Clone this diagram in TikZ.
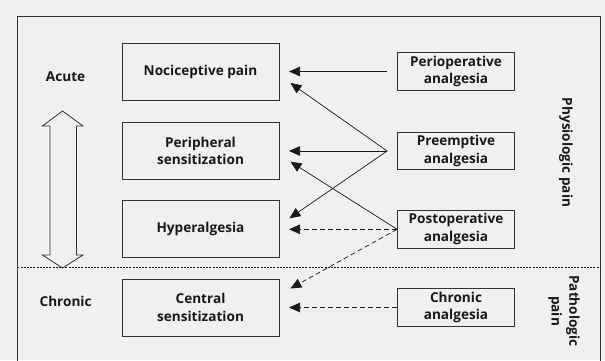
\documentclass[tikz,border=0pt]{standalone}
\usepackage{fontspec}
\setmainfont{Open Sans}
\usetikzlibrary{arrows.meta}
\begin{document}
\begin{tikzpicture}[x=1pt, y=-1pt,
        every node/.style={font=\fontsize{13.6}{17.7}\selectfont\bfseries, text=black!90, align=center, inner sep=0pt},
        stage/.style={draw=black!80, line width=0.8pt, minimum width=157pt, minimum height=57pt},
        therapy/.style={draw=black!80, line width=0.8pt, minimum width=117pt, minimum height=37.7pt},
        effect/.style={-{Triangle[length=11pt,width=9.5pt]}, line width=0.7pt, draw=black!90},
        weak/.style={effect, dash pattern=on 5pt off 3pt}]
        \fill[black!6] (0,0) rectangle (605,360);
        \useasboundingbox (0,0) rectangle (605,360);
        % frame and acute/chronic border
        \draw[black!80, line width=0.8pt] (17.4,362) -- (17.4,16.7) -- (600,16.7) -- (600,362);
        \draw[black!90, line width=0.7pt, dash pattern=on 2pt off 1.2pt] (17.4,267.7) -- (600,267.7);
        % pain stages
        \node[stage] (noci) at (200.5,71.5) {Nociceptive pain};
        \node[stage] (peri) at (200.5,151) {Peripheral\\sensitization};
        \node[stage] (hyper) at (200.5,229.3) {Hyperalgesia};
        \node[stage] (central) at (200.5,307.5) {Central\\sensitization};
        % analgesia
        \node[therapy] (periop) at (456,71.5) {Perioperative\\analgesia};
        \node[therapy] (preemp) at (456,151) {Preemptive\\analgesia};
        \node[therapy] (postop) at (456,229.3) {Postoperative\\analgesia};
        \node[therapy] (chron) at (456,307.5) {Chronic\\analgesia};
        % side labels
        \node (acute) at (65.6,76.7) {Acute};
        \node (chronic) at (65.6,301.7) {Chronic};
        \node[rotate=-90] (physio) at (566,152.5) {Physiologic pain};
        \node[rotate=-90] (patho) at (564,311) {Pathologic\\pain};
        % acute <-> chronic
        \draw[black!80, line width=0.8pt] (62.5,111) -- (83,126) -- (76.4,126) -- (76.4,255) -- (83,255)
            -- (62.5,268) -- (42.4,255) -- (50,255) -- (50,126) -- (42.4,126) -- cycle;
        % arrows
        \coordinate (periop-out) at ([xshift=-10pt]periop.west);
        \coordinate (preemp-out) at ([xshift=-10pt]preemp.west);
        \draw[effect] (periop-out) -- ([xshift=9.6pt]noci.east);
        \draw[effect] (preemp-out) -- ([xshift=11pt, yshift=-11.5pt]noci.east);
        \draw[effect] (preemp-out) -- ([xshift=9.6pt]peri.east);
        \draw[effect] (preemp-out) -- ([xshift=10pt, yshift=11pt]hyper.east);
        \draw[effect] (postop.west) -- ([xshift=11pt, yshift=-10.7pt]peri.east);
        \draw[weak] (postop.west) -- ([xshift=9.6pt]hyper.east);
        \draw[weak] (postop.west) -- ([xshift=11pt, yshift=19pt]central.east);
        \draw[weak] (chron.west) -- ([xshift=9.6pt]central.east);
    \end{tikzpicture}
\end{document}
